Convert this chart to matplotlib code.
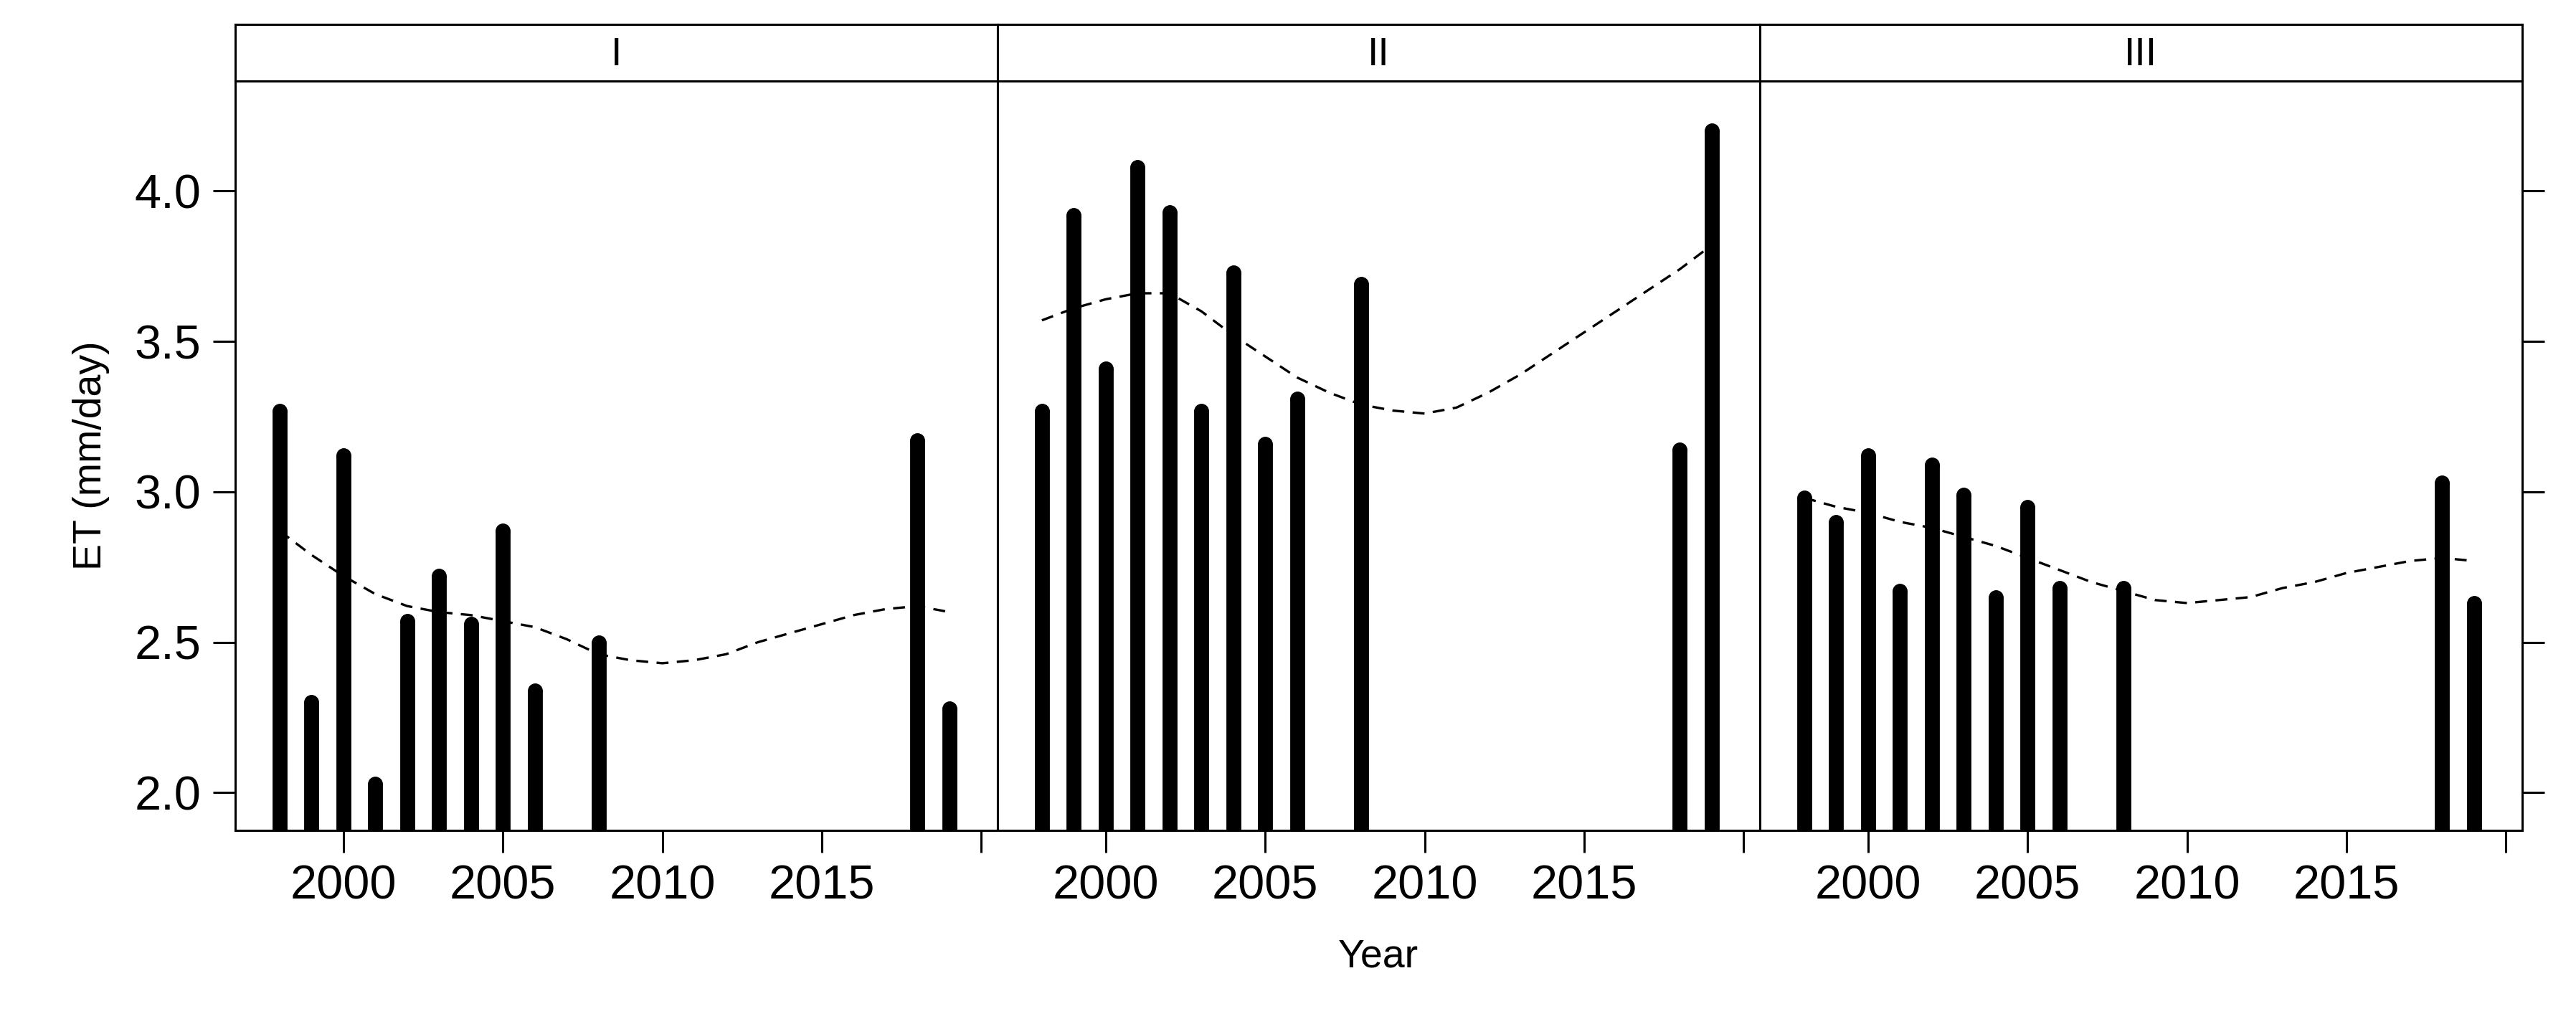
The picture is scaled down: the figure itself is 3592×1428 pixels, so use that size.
import numpy as np
import matplotlib.pyplot as plt

years = [1998, 1999, 2000, 2001, 2002, 2003, 2004, 2005, 2006, 2008, 2018, 2019]
panels = ["I", "II", "III"]
et_values = {
    "I": [3.27, 2.30, 3.12, 2.03, 2.57, 2.72, 2.56, 2.87, 2.34, 2.50, 3.17, 2.28],
    "II": [3.27, 3.92, 3.41, 4.08, 3.93, 3.27, 3.73, 3.16, 3.31, 3.69, 3.14, 4.20],
    "III": [2.98, 2.90, 3.12, 2.67, 3.09, 2.99, 2.65, 2.95, 2.68, 2.68, 3.03, 2.63],
}
smooth_years = [1998, 1999, 2000, 2001, 2002, 2003, 2004, 2005, 2006, 2007, 2008, 2009,
                2010, 2011, 2012, 2013, 2014, 2015, 2016, 2017, 2018, 2019]
smooth_values = {
    "I": [2.87, 2.79, 2.72, 2.66, 2.62, 2.60, 2.59, 2.57, 2.55, 2.51, 2.46, 2.44,
          2.43, 2.44, 2.46, 2.50, 2.53, 2.56, 2.59, 2.61, 2.62, 2.60],
    "II": [3.57, 3.61, 3.64, 3.66, 3.66, 3.60, 3.52, 3.45, 3.38, 3.33, 3.29, 3.27,
           3.26, 3.28, 3.33, 3.39, 3.46, 3.53, 3.60, 3.67, 3.74, 3.82],
    "III": [2.98, 2.95, 2.93, 2.90, 2.88, 2.85, 2.82, 2.78, 2.74, 2.70, 2.67, 2.64,
            2.63, 2.64, 2.65, 2.68, 2.70, 2.73, 2.75, 2.77, 2.78, 2.77],
}

plt.rcParams['font.family'] = ['Liberation Sans', 'DejaVu Sans']
fig = plt.figure(figsize=(35.92, 14.28), dpi=100)

left, right = 0.0912, 0.979
bottom, top, strip_top = 0.189, 0.921, 0.976
w = (right - left) / 3
ymin, ymax = 1.874, 4.366

for i, p in enumerate(panels):
    ax = fig.add_axes([left + i * w, bottom, w, top - bottom])
    sx = fig.add_axes([left + i * w, top, w, strip_top - top])
    sx.set_xticks([]); sx.set_yticks([])
    sx.text(0.5, 0.45, p, ha='center', va='center', fontsize=40, transform=sx.transAxes)
    for s in list(ax.spines.values()) + list(sx.spines.values()):
        s.set_linewidth(2.2)

    xs = np.array(years)
    ax.vlines(xs, ymin - 1, et_values[p], color='black', linewidth=15)
    ax.plot(xs, et_values[p], 'o', color='black', markersize=14)
    ax.plot(smooth_years, smooth_values[p], color='black', linewidth=2.4, dashes=(5, 3.5))

    ax.set_xlim(1996.6, 2020.5)
    ax.set_ylim(ymin, ymax)
    ax.set_xticks([2000, 2005, 2010, 2015, 2020])
    ax.set_xticklabels(['2000', '2005', '2010', '2015', ''])
    ax.tick_params(axis='both', direction='out', length=22, width=2.2, labelsize=48, pad=12)
    ax.set_yticks([2.0, 2.5, 3.0, 3.5, 4.0])
    if i == 0:
        ax.yaxis.set_ticks_position('left')
        ax.set_yticklabels(['2.0', '2.5', '3.0', '3.5', '4.0'])
        ax.set_ylabel('ET (mm/day)', fontsize=40, labelpad=25)
    elif i == 2:
        ax.yaxis.set_ticks_position('right')
        ax.tick_params(axis='y', labelright=False)
    else:
        ax.tick_params(axis='y', left=False, labelleft=False)
    if i == 1:
        ax.set_xlabel('Year', fontsize=40, labelpad=30)

fig.savefig('out.png', dpi=100)
